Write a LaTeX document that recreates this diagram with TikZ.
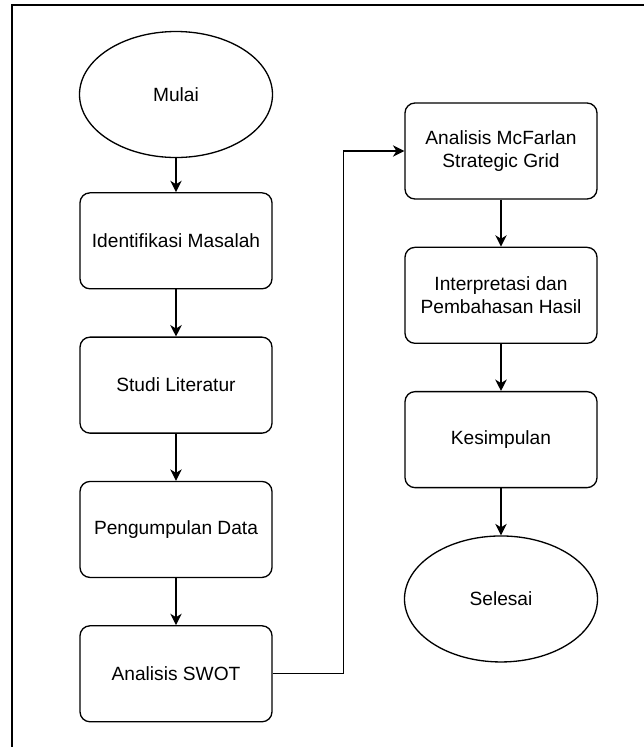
\documentclass[tikz,border=0pt]{standalone}
\usepackage{fontspec}
\setmainfont{Liberation Sans}
\usetikzlibrary{positioning,arrows.meta,shapes.geometric}

\begin{document}
\begin{tikzpicture}[node distance=0.94cm,
  stepbox/.style={rounded corners=0.2cm, draw, line width=0.75pt, minimum width=3.84cm, minimum height=1.92cm, align=center, font=\fontsize{10.9}{13}\selectfont},
  terminal/.style={ellipse, draw, line width=0.75pt, minimum width=3.86cm, minimum height=2.52cm, font=\fontsize{10.9}{13}\selectfont},
  flow/.style={line width=0.75pt, -{Stealth[length=6.5pt, width=6.5pt, inset=2pt]}}]
\useasboundingbox (0,0) rectangle (12.88,-14.94);
% frame
\draw[line width=0.7pt] (0.24,-14.94) -- (0.24,-0.1) -- (12.88,-0.1);

% left column
\node[terminal] (mulai) at (3.52,-1.89) {Mulai};
\node[stepbox, below=0.68cm of mulai] (identifikasi) {Identifikasi Masalah};
\node[stepbox, below=of identifikasi] (studi) {Studi Literatur};
\node[stepbox, below=of studi] (pengumpulan) {Pengumpulan Data};
\node[stepbox, below=of pengumpulan] (swot) {Analisis SWOT};

% right column
\node[stepbox] (mcfarlan) at (10.02,-3.02) {Analisis McFarlan\\Strategic Grid};
\node[stepbox, below=of mcfarlan] (interpretasi) {Interpretasi dan\\Pembahasan Hasil};
\node[stepbox, below=of interpretasi] (kesimpulan) {Kesimpulan};
\node[terminal, below=of kesimpulan] (selesai) {Selesai};

\draw[flow] (mulai) -- (identifikasi);
\draw[flow] (identifikasi) -- (studi);
\draw[flow] (studi) -- (pengumpulan);
\draw[flow] (pengumpulan) -- (swot);
\draw[flow] (swot.east) -- ++(1.42,0) |- (mcfarlan.west);
\draw[flow] (mcfarlan) -- (interpretasi);
\draw[flow] (interpretasi) -- (kesimpulan);
\draw[flow] (kesimpulan) -- (selesai);
\end{tikzpicture}
\end{document}
